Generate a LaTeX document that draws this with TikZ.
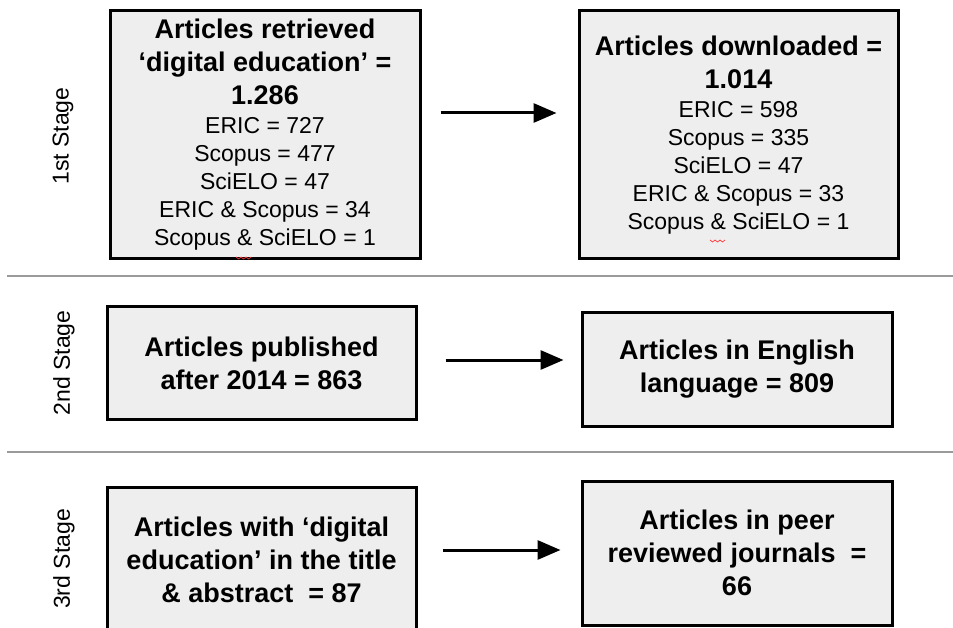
\documentclass[tikz,border=0pt]{standalone}
\usepackage{fontspec}
\setmainfont{Liberation Sans}
\usetikzlibrary{arrows.meta}
\newcommand\hb{\fontsize{27}{33}\selectfont\bfseries\spaceskip=0pt\xspaceskip=0pt\relax}
\newcommand\rg{\fontsize{23}{28}\selectfont\mdseries\spaceskip=0pt\xspaceskip=0pt\relax}
\definecolor{boxfill}{HTML}{EEEEEE}
\definecolor{sepgray}{HTML}{9A9A9A}
\begin{document}
\begin{tikzpicture}[x=1pt,y=-1pt,
  stagebox/.style={draw=black,line width=3pt,fill=boxfill,inner sep=0pt,
    text width=300pt,align=flush center,minimum width=#1},
  flowarrow/.style={line width=3pt,-{Triangle[length=23pt,width=19pt]}},
  sepline/.style={draw=sepgray,line width=2pt},
  stagelabel/.style={rotate=90,font=\fontsize{23}{28}\selectfont,inner sep=0pt}]
\useasboundingbox (0,0) rectangle (953,628);
\begin{scope}
\clip (0,0) rectangle (953,628);
% stage 1
\node[stagebox=310pt,minimum height=248pt,font=\rg] (b1) at (265,135)
 {\hb Articles retrieved\\ ‘digital education’ =\\ 1.286\\[1pt]
  \rg ERIC = 727\\ Scopus = 477\\ SciELO = 47\\ ERIC \& Scopus = 34\\ Scopus \& SciELO = 1};
\node[stagebox=319pt,minimum height=248pt,font=\rg] (b2) at (738.5,135)
 {\hb Articles downloaded =\\ 1.014\\[1pt]
  \rg ERIC = 598\\ Scopus = 335\\ SciELO = 47\\ ERIC \& Scopus = 33\\ Scopus \& SciELO = 1};
% stage 2
\node[stagebox=309pt,minimum height=112pt,font=\hb] (b3) at (261.5,363)
 {\hb Articles published\\ after 2014 = 863};
\node[stagebox=310pt,minimum height=113pt,font=\hb] (b4) at (737,369.5)
 {\hb Articles in English\\ language = 809};
% stage 3
\node[stagebox=309pt,minimum height=146pt,font=\hb] (b5) at (261.5,560)
 {\hb Articles with ‘digital\\ education’ in the title\\ \& abstract\ \ = 87};
\node[stagebox=310pt,minimum height=144pt,font=\hb] (b6) at (737,553)
 {\hb Articles in peer\\ reviewed journals\ \ =\\ 66};
\end{scope}
% arrows
\draw[flowarrow] ([shift={(19pt,22pt)}]b1.east) -- ([shift={(-21pt,22pt)}]b2.west);
\draw[flowarrow] ([shift={(28pt,3pt)}]b3.east) -- ([shift={(-17pt,9.5pt)}]b4.west);
\draw[flowarrow] ([shift={(25pt,10pt)}]b5.east) -- ([shift={(-20pt,3pt)}]b6.west);
% separators
\coordinate (s1a) at (7,276); \coordinate (s1b) at (953,276);
\coordinate (s2a) at (7,452); \coordinate (s2b) at (953,452);
\draw[sepline] (s1a) -- (s1b);
\draw[sepline] (s2a) -- (s2b);
% stage labels
\node[stagelabel] (l1) at (63,136) {1st Stage};
\node[stagelabel] (l2) at (64,363) {2nd Stage};
\node[stagelabel] (l3) at (64,559) {3rd Stage};
% spell-check squiggles
\draw[red!80,line width=0.7pt] (236,257)--(238.5,259)--(241,257)--(243.5,259)--(246,257)--(248.5,259)--(251,257);
\draw[red!80,line width=0.7pt] (710,240)--(712.5,242)--(715,240)--(717.5,242)--(720,240)--(722.5,242)--(725,240);
\end{tikzpicture}
\end{document}
